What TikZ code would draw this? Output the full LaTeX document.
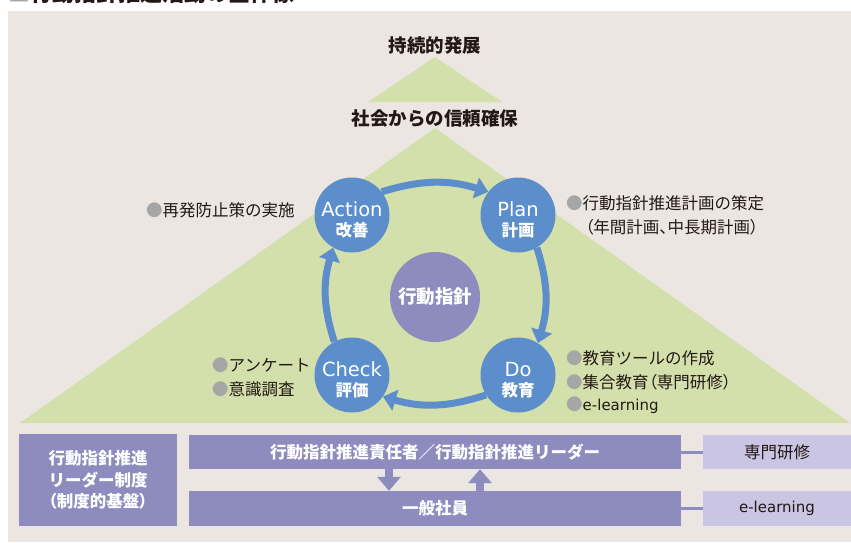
\documentclass[tikz,border=0pt]{standalone}
\usepackage{fontspec}
\setmainfont{Noto Sans CJK JP}
\newfontfamily\jpp[RawFeature=+palt]{Noto Sans CJK JP}
\newfontfamily\lat{DejaVu Sans}
\usetikzlibrary{arrows.meta}
\definecolor{bgc}{RGB}{235,230,226}
\definecolor{grn}{RGB}{212,224,171}
\definecolor{blu}{RGB}{91,142,202}
\definecolor{pur}{RGB}{142,139,191}
\definecolor{lav}{RGB}{201,197,226}
\definecolor{bul}{RGB}{166,166,166}
\definecolor{ink}{RGB}{35,24,21}
\newcommand{\bu}{{\color{bul}●}}
\newcommand{\cyclat}[1]{{\lat\mdseries\fontsize{19.5}{20}\selectfont #1}}
\begin{document}
\begin{tikzpicture}[x=1pt,y=1pt,
  every node/.style={inner sep=0pt, text=ink},
  head/.style={font=\fontsize{18.5}{20}\selectfont\bfseries},
  cyc/.style={circle, fill=blu, minimum size=75pt},
  cyctxt/.style={text=white, align=center, font=\fontsize{16.5}{20}\selectfont\bfseries},
  core/.style={circle, fill=pur, minimum size=90pt, text=white, font=\fontsize{18.5}{20}\selectfont\bfseries},
  cyca/.style={line width=7pt, draw=blu, -{Triangle[length=13pt,width=21pt]}},
  item/.style={anchor=west, font=\fontsize{16.5}{21}\selectfont},
  pbox/.style={fill=pur, text=white, align=center, font=\fontsize{16.5}{21.5}\selectfont\bfseries},
  lbox/.style={fill=lav, text=ink, font=\fontsize{16.5}{21}\selectfont},
  blk/.style={line width=8pt, draw=pur, -{Triangle[length=14pt,width=23pt]}},
  link/.style={line width=3pt, draw=pur}
]
\useasboundingbox (0,0) rectangle (851,-542);
\clip (0,0) rectangle (851,-542);
\fill[bgc] (8,-11) rectangle (851,-542);
\node[anchor=base west, font=\fontsize{22}{24}\selectfont\bfseries] (title) at (8,-1.5) {{\color{bul}■}行動指針推進活動の全体像};
% pyramid
\fill[grn] (368,-102) -- (435,-57) -- (502,-102) -- cycle;
\fill[grn] (20,-423) -- (435,-128) -- (850,-423) -- cycle;
\node[head] (goal) at (435,-45) {持続的発展};
\node[head] (trust) at (435,-118) {社会からの信頼確保};
% cycle
\node[cyc] (act) at (352,-215) {};
\node[cyc] (plan) at (518,-215) {};
\node[cyc] (do) at (518,-375) {};
\node[cyc] (check) at (352,-375) {};
\node[cyctxt] (actT) at ([yshift=-5pt]act.center) {\cyclat{Action}\\改善};
\node[cyctxt] (planT) at ([yshift=-5pt]plan.center) {\cyclat{Plan}\\計画};
\node[cyctxt] (doT) at ([yshift=-5pt]do.center) {\cyclat{Do}\\教育};
\node[cyctxt] (checkT) at ([yshift=-5pt]check.center) {\cyclat{Check}\\評価};
\node[core] (core) at (435,-297) {行動指針};
\draw[cyca] (act.38) to[bend left=17] (plan.142);
\draw[cyca] (plan.-60) to[bend left=17] (do.58);
\draw[cyca] (do.212) to[bend left=17] (check.-35);
\draw[cyca] (check.118) to[bend left=17] (act.240);
% items
\node[item] (i1) at (146,-210) {\bu 再発防止策の実施};
\node[item] (i2) at (566,-203) {\bu 行動指針推進計画の策定};
\node[item] (i3) at (585,-227) {{\jpp （}年間計画{\jpp 、}中長期計画{\jpp ）}};
\node[item] (i4) at (566,-358) {\bu 教育ツールの作成};
\node[item] (i5) at (566,-382) {\bu 集合教育{\jpp （}専門研修{\jpp ）}};
\node[item] (i6) at (566,-405) {\bu{\lat\fontsize{15}{18}\selectfont e-learning}};
\node[item] (i7) at (212,-365) {\bu アンケート};
\node[item] (i8) at (212,-389) {\bu 意識調査};
% bottom structure
\node[pbox, minimum width=158pt, minimum height=92pt] (sys) at (98,-480) {行動指針推進\\リーダー制度\\{\jpp （}制度的基盤{\jpp ）}};
\node[pbox, minimum width=492pt, minimum height=34pt] (lead) at (435,-452) {行動指針推進責任者／行動指針推進リーダー};
\node[pbox, minimum width=492pt, minimum height=35pt] (staff) at (435,-508.5) {一般社員};
\node[lbox, minimum width=148pt, minimum height=34pt] (spec) at (777,-452) {専門研修};
\node[lbox, minimum width=148pt, minimum height=35pt] (elrn) at (777,-508.5) {{\lat\fontsize{15}{18}\selectfont e-learning}};
\draw[link] (lead) -- (spec);
\draw[link] (staff) -- (elrn);
\coordinate (dnx) at (389,0);
\coordinate (upx) at (480,0);
\draw[blk] (lead.south -| dnx) -- (staff.north -| dnx);
\draw[blk] (staff.north -| upx) -- (lead.south -| upx);
\end{tikzpicture}
\end{document}
